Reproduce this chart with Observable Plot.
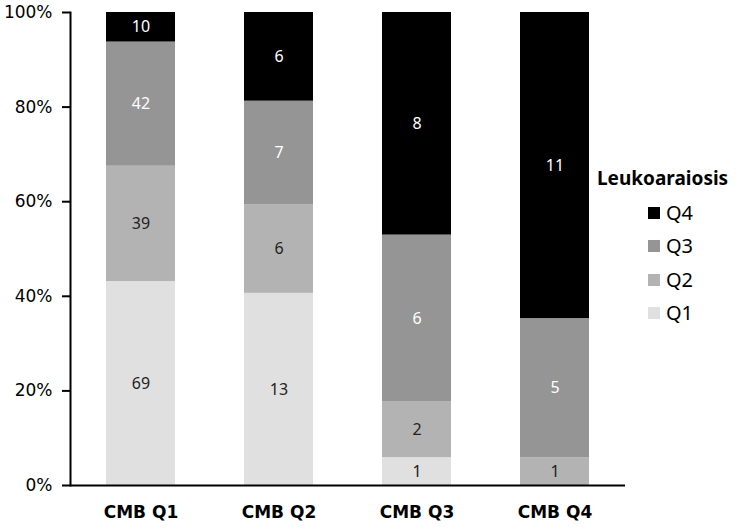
<!DOCTYPE html>
<html>
<head>
<meta charset="utf-8">
<script src="https://cdn.jsdelivr.net/npm/d3@7"></script>
<script src="https://cdn.jsdelivr.net/npm/@observablehq/plot@0.6"></script>
<style>
  html, body { margin: 0; padding: 0; background: #fff; }
  #wrap { position: relative; width: 738px; height: 529px; font-family: "Noto Sans", sans-serif; }
  #legend { position: absolute; left: 0; top: 0; }
  .ltitle { position: absolute; left: 597px; top: 166px; font-size: 19px; font-weight: bold; color: #000; white-space: nowrap; line-height: 24px; }
  .litem { position: absolute; left: 648px; height: 24px; display: flex; align-items: center; font-size: 20px; color: #000; line-height: 24px; }
  .litem span.sw { display: inline-block; width: 12px; height: 12px; margin-right: 6px; }
</style>
</head>
<body>
<div id="wrap"><div id="chart"></div><div id="legend"></div></div>
<script>
const categories = ["CMB Q1", "CMB Q2", "CMB Q3", "CMB Q4"];
const groups = ["Q1", "Q2", "Q3", "Q4"];
const q1Values = [69, 13, 1, 0];
const q2Values = [39, 6, 2, 1];
const q3Values = [42, 7, 6, 5];
const q4Values = [10, 6, 8, 11];
const yTicks = [0, 0.2, 0.4, 0.6, 0.8, 1];
const colors = ["#e0e0e0", "#b3b3b3", "#959595", "#000000"];
const labelColors = ["#222222", "#222222", "#ffffff", "#ffffff"];

const series = [q1Values, q2Values, q3Values, q4Values];
const data = [];
categories.forEach((c, i) => {
  groups.forEach((g, j) => {
    data.push({cmb: c, group: g, value: series[j][i], labelColor: labelColors[j]});
  });
});

const chart = Plot.plot({
  width: 738,
  height: 529,
  marginLeft: 70,
  marginRight: 113,
  marginTop: 12,
  marginBottom: 44,
  style: {fontFamily: "Noto Sans, sans-serif", background: "#fff"},
  x: {domain: categories, paddingInner: 0.5, paddingOuter: 0.25, label: null},
  y: {domain: [0, 1], label: null},
  color: {domain: groups, range: colors},
  marks: [
    Plot.barY(data, Plot.stackY({x: "cmb", y: "value", z: "group", fill: "group", offset: "normalize", order: null})),
    Plot.text(data, Plot.stackY({
      x: "cmb", y: "value", z: "group", offset: "normalize", order: null,
      text: d => d.value > 0 ? String(d.value) : "",
      fill: "labelColor", fontSize: 16
    })),
    Plot.axisY({ticks: yTicks, tickFormat: d3.format(".0%"), tickSize: 8, tickPadding: 10, strokeWidth: 2, fontSize: 17, fontFamily: "DejaVu Sans", label: null, color: "#000"}),
    Plot.axisX({tickSize: 0, tickPadding: 20, fontSize: 17, fontWeight: "bold", fontFamily: "DejaVu Sans", label: null, color: "#000"}),
    Plot.frame({anchor: "left", strokeWidth: 2}),
    Plot.ruleY([0], {strokeWidth: 2})
  ]
});
document.getElementById("chart").appendChild(chart);

const legend = document.getElementById("legend");
const title = document.createElement("div");
title.className = "ltitle";
title.textContent = "Leukoaraiosis";
legend.appendChild(title);
const order = groups.slice().reverse();
order.forEach((g, k) => {
  const item = document.createElement("div");
  item.className = "litem";
  item.style.top = (201 + k * 33.3) + "px";
  const sw = document.createElement("span");
  sw.className = "sw";
  sw.style.background = colors[groups.indexOf(g)];
  item.appendChild(sw);
  item.appendChild(document.createTextNode(g));
  legend.appendChild(item);
});
</script>
</body>
</html>
